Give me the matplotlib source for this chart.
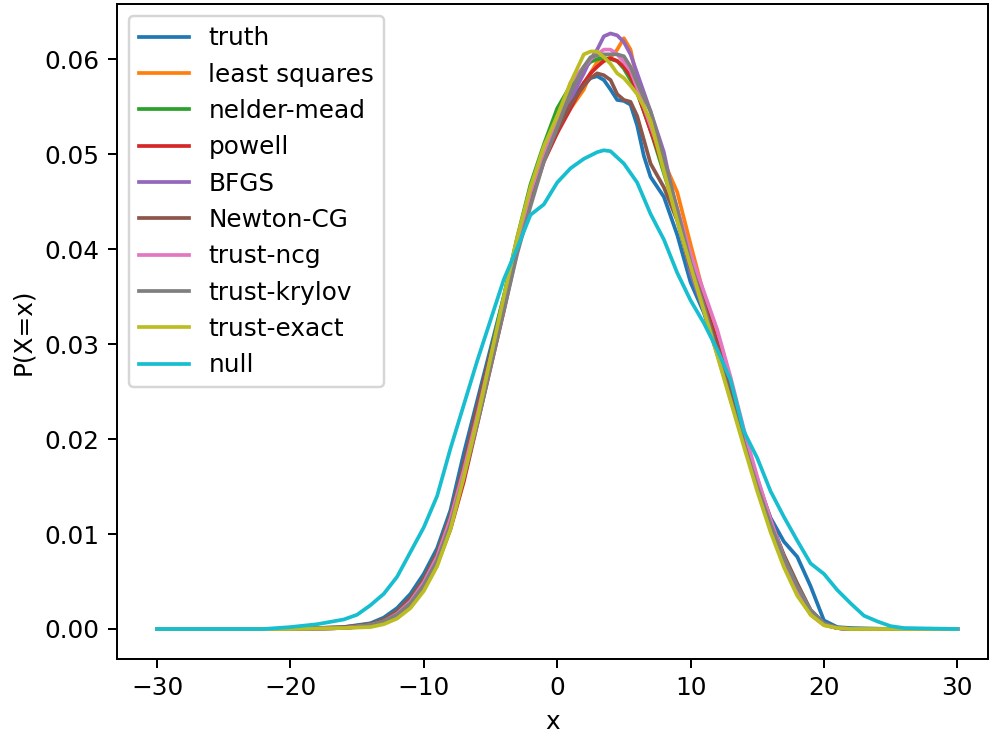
import matplotlib
matplotlib.use('Agg')
import matplotlib.pyplot as plt

# x positions shared by the fitted curves
xs = [-30, -20, -16, -14, -13, -12, -11, -10, -9, -8, -7, -6, -5, -4, -3, -2, -1,
      0, 1, 2, 2.5, 3, 3.5, 4, 4.5, 5, 5.5, 6, 6.5, 7,
      8, 9, 10, 11, 12, 13, 14, 15, 16, 17, 18, 19, 20, 21, 22, 25, 30]

truth = [0, 0, 0.0002, 0.0006, 0.0012, 0.0022, 0.0037, 0.0058, 0.0085, 0.0125, 0.0185, 0.024, 0.0295, 0.035, 0.041, 0.0462, 0.0498,
         0.0525, 0.0555, 0.0575, 0.058, 0.0582, 0.0578, 0.0568, 0.0557, 0.0556, 0.0552, 0.053, 0.0498, 0.0476,
         0.0455, 0.0415, 0.0365, 0.0333, 0.029, 0.0245, 0.0198, 0.0155, 0.0117, 0.0092, 0.0076, 0.0045, 0.0009, 0.0002, 0.0001, 0, 0]
least_squares = [0, 0, 0.0001, 0.0004, 0.0008, 0.0015, 0.0028, 0.0048, 0.0075, 0.0115, 0.0165, 0.0222, 0.0282, 0.0342, 0.0402, 0.0452, 0.0495,
                 0.0525, 0.0548, 0.0568, 0.0585, 0.0597, 0.0598, 0.0602, 0.061, 0.0622, 0.061, 0.0578, 0.055, 0.0525,
                 0.0492, 0.046, 0.0405, 0.0352, 0.0302, 0.0252, 0.0202, 0.0155, 0.0113, 0.0075, 0.0042, 0.0015, 0.0004, 0.0001, 0, 0, 0]
nelder_mead = [0, 0, 0.0001, 0.0005, 0.001, 0.0019, 0.0033, 0.0053, 0.008, 0.012, 0.0172, 0.0228, 0.029, 0.035, 0.0412, 0.0468, 0.051,
               0.0548, 0.0572, 0.059, 0.0597, 0.06, 0.0601, 0.06, 0.0598, 0.059, 0.0578, 0.0565, 0.0545, 0.0525,
               0.048, 0.0435, 0.0385, 0.034, 0.0292, 0.0245, 0.0198, 0.0152, 0.011, 0.0072, 0.004, 0.0017, 0.0005, 0.0001, 0, 0, 0]
powell = [0, 0, 0.0001, 0.0003, 0.0006, 0.0012, 0.0024, 0.0042, 0.0068, 0.0105, 0.0155, 0.0215, 0.0275, 0.0335, 0.0398, 0.045, 0.0492,
          0.0522, 0.0548, 0.0575, 0.0585, 0.0592, 0.0598, 0.0601, 0.0598, 0.0592, 0.0582, 0.0565, 0.0545, 0.0525,
          0.0485, 0.044, 0.039, 0.0345, 0.0302, 0.0255, 0.0205, 0.0158, 0.0115, 0.0076, 0.0043, 0.0018, 0.0005, 0.0001, 0, 0, 0]
bfgs = [0, 0, 0.0001, 0.0004, 0.0009, 0.0017, 0.003, 0.005, 0.0077, 0.0117, 0.0168, 0.0225, 0.0285, 0.0345, 0.0405, 0.0458, 0.0502,
        0.0532, 0.0558, 0.0585, 0.06, 0.061, 0.0624, 0.0627, 0.0625, 0.0618, 0.0605, 0.0585, 0.0565, 0.0545,
        0.0502, 0.0436, 0.0375, 0.0335, 0.029, 0.0245, 0.0198, 0.0152, 0.011, 0.0072, 0.004, 0.0018, 0.0006, 0.0001, 0, 0, 0]
newton_cg = [0, 0, 0.0002, 0.0005, 0.001, 0.0019, 0.0033, 0.0053, 0.008, 0.012, 0.0175, 0.0235, 0.029, 0.0345, 0.0402, 0.0455, 0.0495,
             0.0525, 0.0552, 0.0572, 0.058, 0.0585, 0.0583, 0.0578, 0.0563, 0.0557, 0.0555, 0.054, 0.0515, 0.049,
             0.0465, 0.043, 0.038, 0.0342, 0.0298, 0.025, 0.0202, 0.0155, 0.0113, 0.0078, 0.0048, 0.002, 0.0006, 0.0001, 0, 0, 0]
trust_ncg = [0, 0, 0.0001, 0.0004, 0.0008, 0.0016, 0.0029, 0.0049, 0.0076, 0.0116, 0.0167, 0.0224, 0.0285, 0.0345, 0.0405, 0.046, 0.0502,
             0.0535, 0.0575, 0.0592, 0.06, 0.0605, 0.061, 0.061, 0.0605, 0.0597, 0.0588, 0.057, 0.055, 0.053,
             0.049, 0.0443, 0.0395, 0.0355, 0.0315, 0.0265, 0.021, 0.016, 0.0115, 0.0075, 0.0042, 0.0018, 0.0005, 0.0001, 0, 0, 0]
trust_krylov = [0, 0, 0.0001, 0.0004, 0.0008, 0.0015, 0.0027, 0.0046, 0.0072, 0.011, 0.016, 0.0215, 0.0275, 0.0335, 0.0395, 0.0445, 0.0492,
                0.0528, 0.0565, 0.0592, 0.0602, 0.0604, 0.0605, 0.0605, 0.0605, 0.0603, 0.0592, 0.0575, 0.056, 0.0545,
                0.0495, 0.0442, 0.0385, 0.034, 0.029, 0.0242, 0.0195, 0.015, 0.011, 0.0075, 0.0045, 0.002, 0.0006, 0.0001, 0, 0, 0]
trust_exact = [0, 0, 0.0001, 0.0002, 0.0005, 0.0011, 0.0022, 0.004, 0.0066, 0.0105, 0.016, 0.022, 0.0285, 0.035, 0.0412, 0.0465, 0.0508,
               0.054, 0.0575, 0.0605, 0.0608, 0.0608, 0.0602, 0.0595, 0.0585, 0.058, 0.0572, 0.0563, 0.055, 0.0535,
               0.0482, 0.043, 0.0382, 0.0335, 0.0288, 0.024, 0.0192, 0.0145, 0.0102, 0.0065, 0.0035, 0.0015, 0.0004, 0.0001, 0, 0, 0]

# null model has its own grid
xs_null = [-30, -22, -20, -18, -16, -15, -14, -13, -12, -11, -10, -9, -8, -7, -6, -5, -4, -3, -2, -1,
           0, 1, 2, 3, 3.5, 4, 5, 6, 7, 8, 9, 10, 11, 12, 13, 14, 15, 16, 17, 18, 19, 20,
           21, 22, 23, 24, 25, 26, 30]
null = [0, 0, 0.0002, 0.0005, 0.001, 0.0015, 0.0025, 0.0037, 0.0055, 0.0081, 0.0107, 0.014, 0.019, 0.0236, 0.0282, 0.0325, 0.0368, 0.0401, 0.0436, 0.0447,
        0.047, 0.0485, 0.0495, 0.0502, 0.0504, 0.0503, 0.049, 0.047, 0.0437, 0.041, 0.0375, 0.0346, 0.0322, 0.0294, 0.0262, 0.0208, 0.018, 0.0145, 0.0118, 0.0093, 0.0069, 0.0058,
        0.0041, 0.0027, 0.0014, 0.0008, 0.0003, 0.0001, 0]

series = [
    ('truth', truth),
    ('least squares', least_squares),
    ('nelder-mead', nelder_mead),
    ('powell', powell),
    ('BFGS', bfgs),
    ('Newton-CG', newton_cg),
    ('trust-ncg', trust_ncg),
    ('trust-krylov', trust_krylov),
    ('trust-exact', trust_exact),
]

fig = plt.figure(figsize=(989 / 178, 735 / 178), dpi=178)
ax = fig.add_axes([117 / 989, 1 - 659 / 735, 871 / 989, 655 / 735])

for name, ys in series:
    ax.plot(xs, ys, label=name)
ax.plot(xs_null, null, label='null')

ax.set_xlim(-33, 32.3)
ax.set_ylim(-0.00316, 0.0658)
ax.set_xlabel('x')
ax.set_ylabel('P(X=x)')
ax.legend(loc='upper left')

fig.savefig('out.png', dpi=178)
